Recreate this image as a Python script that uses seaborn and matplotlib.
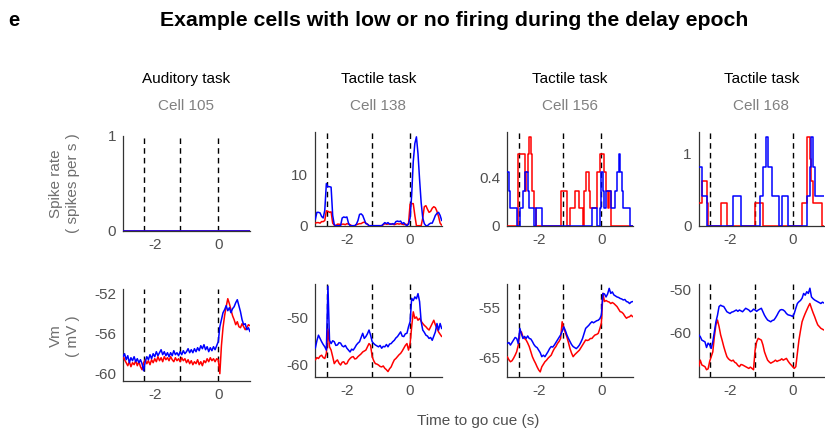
import numpy as np
import pandas as pd
import matplotlib
matplotlib.use("Agg")
import matplotlib.pyplot as plt
import seaborn as sns

sns.set_theme(style="white")
plt.rcParams["font.family"] = ["Liberation Sans", "DejaVu Sans"]

# ---------------- data ----------------
task_names = ["Auditory task", "Tactile task", "Tactile task", "Tactile task"]
cell_names = ["Cell 105", "Cell 138", "Cell 156", "Cell 168"]

# trial epoch markers (s, relative to go cue)
epoch_marks = [[-2.35, -1.2, 0.0], [-2.62, -1.21, 0.0], [-2.62, -1.21, 0.0], [-2.63, -1.21, 0.0]]

# spike rate, cell 105: silent in both trial types (80 bins of 50 ms)
rate105_red = [0.0] * 80
rate105_blue = [0.0] * 80

# spike rate, cell 138: smoothed rate sampled every 50 ms (81 samples)
rate138_blue = [1.2, 2.6, 2.6, 2.5, 1.8, 1.5, 3.0, 8.2, 7.6, 7.6,
                7.5, 2.0, 0.2, 0.0, 0.0, 0.0, 0.0, 1.5, 1.7, 1.6,
                1.7, 0.5, 0.0, 0.0, 0.0, 0.0, 0.3, 1.0, 2.2, 2.3,
                2.0, 1.2, 0.4, 0.3, 0.0, 0.0, 0.0, 0.0, 0.0, 0.0,
                0.0, 0.0, 0.0, 0.3, 0.6, 0.4, 0.6, 0.3, 0.3, 0.4,
                0.3, 0.8, 0.9, 0.8, 0.9, 0.4, 0.6, 0.2, 0.0, 0.3,
                1.5, 6.0, 12.5, 16.0, 17.3, 14.0, 9.0, 4.5, 1.5, 0.4,
                0.0, 0.0, 0.3, 0.5, 0.5, 1.2, 2.0, 2.4, 2.6, 2.0,
                1.0]
rate138_red = [0.5, 0.6, 0.6, 0.5, 0.8, 0.8, 1.0, 2.9, 2.8, 2.6,
               2.7, 0.5, 0.1, 0.0, 0.3, 0.3, 0.2, 0.3, 0.3, 0.2,
               0.4, 0.3, 0.2, 0.0, 0.0, 0.0, 0.2, 0.3, 0.4, 0.4,
               0.6, 0.7, 0.5, 0.3, 0.0, 0.0, 0.0, 0.0, 0.0, 0.0,
               0.0, 0.0, 0.0, 0.2, 0.4, 0.3, 0.3, 0.4, 0.3, 0.3,
               0.2, 0.3, 0.4, 0.3, 0.4, 0.3, 0.2, 0.3, 0.2, 0.4,
               4.2, 4.3, 4.3, 2.0, 0.0, 0.0, 0.0, 0.0, 1.5, 3.7,
               3.9, 3.2, 2.6, 2.8, 3.4, 3.7, 3.5, 2.8, 1.8, 0.5,
               0.1]

# spike rate, cell 156 (80 bins of 50 ms from -3 s)
rate156_red = [0, 0, 0, 0, 0, 0, 0, 0.59, 0.59, 0.59,
               0.59, 0.29, 0.44, 0.59, 0.73, 0.59, 0.29, 0.15, 0, 0,
               0, 0, 0, 0, 0, 0, 0, 0, 0, 0,
               0, 0, 0, 0, 0.29, 0.29, 0.29, 0.29, 0, 0,
               0.15, 0.15, 0.15, 0.29, 0.29, 0.29, 0.15, 0.15, 0, 0.29,
               0.44, 0.44, 0.29, 0.15, 0.15, 0.15, 0.15, 0.44, 0.44, 0.59,
               0.59, 0.59, 0.44, 0.29, 0.15, 0.29, 0, 0, 0, 0,
               0, 0, 0, 0, 0, 0, 0, 0, 0, 0]
rate156_blue = [0.44, 0.29, 0.15, 0.15, 0.15, 0.15, 0, 0, 0.15, 0.15,
                0.29, 0.44, 0.44, 0.29, 0.15, 0.15, 0.15, 0, 0.15, 0.15,
                0.15, 0.15, 0, 0, 0, 0, 0, 0, 0, 0,
                0, 0, 0, 0, 0, 0, 0, 0, 0, 0,
                0, 0, 0, 0, 0, 0, 0, 0, 0, 0,
                0, 0, 0, 0, 0.15, 0.15, 0.15, 0, 0, 0.15,
                0.44, 0.29, 0.15, 0.29, 0.29, 0.29, 0.15, 0.15, 0.15, 0.29,
                0.44, 0.59, 0.44, 0.29, 0.15, 0.15, 0.15, 0.15, 0, 0]

# spike rate, cell 168 (80 bins of 50 ms from -3 s)
rate168_red = [0.31, 0.31, 0.62, 0.62, 0.62, 0.31, 0, 0, 0, 0,
               0, 0, 0, 0, 0.31, 0.31, 0.31, 0.31, 0, 0,
               0, 0, 0, 0, 0, 0, 0, 0, 0, 0,
               0, 0, 0, 0, 0, 0, 0.31, 0.31, 0.31, 0.31,
               0.31, 0, 0, 0, 0, 0, 0, 0, 0, 0,
               0, 0, 0, 0, 0, 0, 0, 0, 0, 0,
               0, 0, 0, 0, 0, 0, 0.31, 0.31, 0.31, 1.23,
               1.23, 0.93, 0.62, 0.31, 0.31, 0.31, 0.31, 0.31, 0.31, 0]
rate168_blue = [0.82, 0.82, 0.41, 0.41, 0.41, 0, 0, 0, 0, 0,
                0, 0, 0, 0, 0, 0, 0, 0, 0, 0,
                0, 0, 0.41, 0.41, 0.41, 0.41, 0.41, 0, 0, 0,
                0, 0, 0, 0, 0, 0, 0, 0, 0, 0.41,
                0.41, 0.82, 0.82, 1.23, 0.82, 0.82, 0.82, 0.41, 0.41, 0.41,
                0.41, 0, 0, 0.41, 0.41, 0.41, 0.41, 0, 0, 0,
                0, 0, 0, 0, 0, 0, 0, 0, 0, 0.41,
                0.41, 0.82, 1.23, 0.82, 0.41, 0.41, 0.41, 0.41, 0.41, 0.41]

# membrane potential (mV), sampled every 50 ms from -3 s to 1 s (81 samples)
vm105_blue = [-58.3, -58.0, -58.6, -58.2, -58.9, -58.4, -58.7, -58.3, -58.8, -58.5,
              -58.9, -58.6, -59.0, -59.7, -58.8, -58.3, -58.6, -58.1, -58.5, -58.0,
              -58.3, -57.8, -58.2, -57.9, -57.6, -58.1, -57.8, -58.2, -57.9, -58.3,
              -57.9, -58.2, -57.7, -58.1, -57.9, -58.2, -57.8, -58.1, -57.7, -58.0,
              -57.8, -57.5, -57.9, -57.6, -57.9, -57.5, -57.8, -57.4, -57.7, -57.2,
              -57.5, -57.1, -57.6, -57.3, -57.8, -57.4, -57.7, -57.3, -57.6, -57.2,
              -56.8, -55.3, -54.6, -53.9, -53.6, -53.2, -53.7, -53.4, -53.9, -53.5,
              -53.3, -52.9, -52.6, -53.2, -53.8, -54.6, -55.1, -55.0, -55.6, -55.4,
              -55.8]
vm105_red = [-58.2, -58.6, -58.9, -59.2, -58.8, -59.3, -58.9, -59.1, -58.7, -59.2,
             -58.8, -59.3, -59.6, -58.9, -58.6, -59.0, -58.7, -59.1, -58.6, -58.9,
             -58.5, -58.8, -58.3, -58.7, -58.4, -58.8, -58.3, -58.6, -58.4, -58.7,
             -58.3, -58.6, -58.8, -58.4, -58.7, -58.5, -58.8, -58.4, -58.7, -58.5,
             -58.9, -58.6, -59.0, -58.7, -59.1, -58.8, -59.0, -58.6, -59.1, -58.8,
             -59.2, -58.7, -58.9, -58.5, -58.8, -58.4, -58.7, -58.5, -58.8, -58.5,
             -58.6, -60.0, -57.2, -55.4, -54.2, -53.3, -52.5, -53.0, -53.6, -54.2,
             -54.6, -55.1, -54.8, -55.3, -55.4, -55.0, -55.3, -55.6, -55.4, -55.1,
             -55.2]
vm138_blue = [-56.6, -55.0, -53.8, -54.5, -55.2, -55.8, -56.3, -57.0, -43.3, -54.9,
              -55.6, -55.0, -55.2, -56.0, -55.9, -55.4, -55.5, -56.1, -56.3, -56.0,
              -56.6, -57.0, -57.4, -56.8, -57.0, -56.5, -55.9, -55.5, -55.2, -54.3,
              -53.4, -54.5, -54.1, -53.5, -52.7, -53.8, -55.2, -55.6, -55.9, -56.1,
              -56.3, -56.0, -56.6, -56.2, -56.3, -55.8, -56.3, -55.7, -55.6, -55.2,
              -54.9, -54.4, -54.1, -53.6, -53.1, -54.0, -54.1, -53.5, -53.4, -52.0,
              -50.9, -45.9, -46.4, -45.6, -46.0, -44.9, -46.6, -50.9, -52.7, -53.2,
              -53.8, -54.0, -54.5, -54.3, -54.9, -54.0, -53.1, -51.3, -52.7, -51.3,
              -52.4]
vm138_red = [-59.1, -58.6, -58.8, -58.3, -58.1, -58.6, -58.8, -57.7, -52.5, -56.3,
             -57.0, -58.4, -59.9, -59.4, -59.1, -59.8, -60.2, -59.6, -59.5, -60.0,
             -59.9, -59.2, -58.8, -58.5, -58.4, -58.9, -58.8, -58.4, -58.1, -57.8,
             -57.4, -57.2, -57.0, -56.3, -55.6, -56.0, -58.4, -59.3, -59.9, -60.0,
             -60.2, -60.5, -60.6, -60.4, -60.9, -61.2, -61.6, -61.0, -60.6, -59.8,
             -59.1, -58.8, -58.4, -58.0, -57.7, -57.2, -56.6, -56.0, -55.6, -57.0,
             -55.6, -52.0, -48.8, -50.2, -49.9, -50.6, -50.2, -50.8, -51.3, -51.7,
             -52.0, -52.4, -52.7, -52.0, -51.3, -50.6, -51.6, -52.3, -53.1, -53.6,
             -54.1]
vm156_blue = [-62.2, -62.0, -62.5, -62.0, -61.5, -61.0, -61.2, -62.2, -59.2, -60.3,
              -61.2, -60.8, -61.2, -60.7, -61.2, -61.3, -61.8, -62.4, -62.8, -63.0,
              -63.5, -64.0, -64.8, -64.5, -64.8, -64.3, -63.8, -63.2, -62.8, -62.9,
              -62.5, -62.0, -61.5, -61.0, -60.5, -59.8, -58.9, -59.6, -60.5, -61.2,
              -61.8, -62.4, -62.8, -63.0, -63.2, -62.9, -62.5, -61.9, -61.2, -60.2,
              -59.2, -58.9, -58.6, -58.2, -57.9, -58.1, -57.9, -57.7, -57.6, -57.3,
              -56.6, -52.3, -52.4, -53.0, -52.4, -51.3, -52.3, -52.0, -52.6, -52.8,
              -53.0, -53.1, -53.3, -53.4, -53.6, -53.5, -53.9, -54.0, -54.3, -54.0,
              -53.9]
vm156_red = [-64.8, -65.4, -65.8, -65.6, -65.1, -64.5, -63.8, -62.5, -59.9, -59.9,
             -60.9, -61.2, -61.5, -62.1, -62.8, -63.8, -64.8, -65.5, -66.1, -66.8,
             -67.4, -67.8, -66.8, -66.3, -65.8, -65.5, -65.1, -64.8, -64.5, -63.8,
             -63.2, -62.8, -62.2, -61.8, -61.2, -57.9, -59.2, -60.0, -60.9, -62.0,
             -63.2, -64.1, -64.8, -64.4, -64.1, -63.8, -63.5, -63.0, -62.5, -62.0,
             -61.5, -61.6, -61.5, -61.2, -61.2, -60.8, -60.5, -60.4, -60.2, -59.3,
             -58.2, -52.3, -53.9, -53.7, -53.9, -54.0, -54.3, -54.1, -54.3, -54.6,
             -54.9, -55.4, -55.9, -56.0, -56.3, -56.8, -57.2, -57.0, -56.9, -56.6,
             -56.9]
vm168_blue = [-60.5, -60.9, -61.7, -61.9, -62.1, -63.4, -62.4, -62.8, -63.6, -62.1,
              -59.8, -57.5, -56.0, -54.0, -53.7, -53.9, -54.0, -54.6, -55.2, -55.4,
              -55.6, -55.3, -55.2, -55.0, -54.8, -55.1, -54.8, -55.0, -55.2, -54.8,
              -54.4, -54.6, -54.8, -55.2, -55.0, -54.6, -54.8, -55.1, -54.8, -54.6,
              -54.4, -55.2, -56.0, -56.6, -57.1, -57.3, -57.5, -57.2, -57.1, -56.6,
              -56.0, -55.3, -54.8, -54.7, -54.8, -55.1, -55.6, -55.9, -56.0, -56.1,
              -56.3, -55.6, -54.4, -53.3, -52.9, -52.6, -52.1, -51.0, -51.4, -50.6,
              -51.0, -49.8, -51.8, -52.2, -52.5, -52.7, -52.9, -53.1, -53.3, -53.0,
              -53.2]
vm168_red = [-67.8, -66.3, -67.4, -67.6, -67.8, -68.5, -68.3, -66.6, -65.5, -64.4,
             -60.9, -58.2, -57.1, -58.6, -60.5, -61.8, -63.2, -64.4, -65.5, -66.0,
             -66.3, -66.5, -66.3, -66.8, -67.0, -67.5, -67.8, -67.3, -67.4, -67.6,
             -67.8, -68.0, -68.2, -67.9, -68.2, -68.5, -64.0, -62.1, -61.3, -61.5,
             -61.7, -62.8, -64.4, -65.4, -66.3, -66.7, -67.0, -66.8, -66.6, -66.3,
             -66.6, -66.4, -66.3, -66.0, -66.3, -66.1, -65.9, -66.5, -67.0, -67.4,
             -67.8, -68.2, -67.8, -64.7, -61.7, -59.5, -57.5, -56.5, -55.6, -54.8,
             -54.0, -53.3, -54.4, -55.4, -56.3, -57.3, -58.2, -58.6, -59.0, -59.2,
             -59.4]

# axis scaling and ticks per panel
rate_ylims = [(0, 1.0), (0, 18.3), (0, 0.777), (0, 1.31)]
rate_yticks = [[0, 0.5, 1], [0, 5, 10, 15], [0, 0.2, 0.4, 0.6], [0, 0.5, 1]]
rate_yticklabels = [["0", "", "1"], ["0", "", "10", ""], ["0", "", "0.4", ""], ["0", "", "1"]]
vm_ylims = [(-60.7, -51.5), (-62.7, -42.9), (-68.75, -50.5), (-70.1, -48.9)]
vm_yticks = [[-60, -58, -56, -54, -52], [-60, -55, -50, -45], [-65, -60, -55], [-65, -60, -55, -50]]
vm_yticklabels = [["-60", "", "-56", "", "-52"], ["-60", "", "-50", ""], ["-65", "", "-55"], ["", "-60", "", "-50"]]
xticks = [-3, -2, -1, 0, 1]
xticklabels = ["", "-2", "", "0", ""]

rate_red = [rate105_red, rate138_red, rate156_red, rate168_red]
rate_blue = [rate105_blue, rate138_blue, rate156_blue, rate168_blue]
rate_is_hist = [True, False, True, True]
vm_red = [vm105_red, vm138_red, vm156_red, vm168_red]
vm_blue = [vm105_blue, vm138_blue, vm156_blue, vm168_blue]

RED = "#ff0000"
BLUE = "#0000ff"
TICK_COLOR = "#505050"
SPINE_COLOR = "#333333"

# ---------------- figure ----------------
W, H = 825, 429
fig = plt.figure(figsize=(W / 100, H / 100), dpi=100)

col_x = [(123, 250), (315.3, 441.7), (507.3, 632.7), (698.7, 824)]
top_rows = [(136, 231), (131.7, 225.7), (131.7, 225.7), (131.7, 225.7)]
bot_rows = [(288.7, 380.7), (284.3, 376.7), (284.3, 376.7), (284.3, 376.7)]


def make_ax(xr, yr):
    return fig.add_axes([xr[0] / W, 1 - yr[1] / H, (xr[1] - xr[0]) / W, (yr[1] - yr[0]) / H])


def style_ax(ax, ylim, yticks, yticklabels):
    ax.set_xlim(-3, 1)
    ax.set_ylim(*ylim)
    ax.set_xticks(xticks)
    ax.set_xticklabels(xticklabels)
    ax.set_yticks(yticks)
    ax.set_yticklabels(yticklabels)
    ax.set_xlabel("")
    ax.set_ylabel("")
    for s in ["top", "right"]:
        ax.spines[s].set_visible(False)
    for s in ["left", "bottom"]:
        ax.spines[s].set_color(SPINE_COLOR)
        ax.spines[s].set_linewidth(0.9)
    ax.tick_params(axis="both", direction="out", length=3, width=0.9,
                   color=SPINE_COLOR, labelcolor=TICK_COLOR, labelsize=11, pad=2)
    ax.patch.set_alpha(0)


def draw_marks(ax, marks):
    for m in marks:
        ax.axvline(m, color="black", lw=1.0, ls=(0, (4, 3)), zorder=1)


for i in range(4):
    # ---- spike rate row ----
    ax = make_ax(col_x[i], top_rows[i])
    draw_marks(ax, epoch_marks[i])
    for vals, col in [(rate_red[i], RED), (rate_blue[i], BLUE)]:
        v = np.asarray(vals, dtype=float)
        if rate_is_hist[i]:
            edges = np.linspace(-3, 1, len(v) + 1)
            df = pd.DataFrame({"t": edges, "r": np.append(v, v[-1])})
            sns.lineplot(data=df, x="t", y="r", ax=ax, color=col, lw=1.1,
                         estimator=None, sort=False, drawstyle="steps-post", zorder=3)
        else:
            df = pd.DataFrame({"t": np.linspace(-3, 1, len(v)), "r": v})
            sns.lineplot(data=df, x="t", y="r", ax=ax, color=col, lw=1.1,
                         estimator=None, sort=False, zorder=3)
    style_ax(ax, rate_ylims[i], rate_yticks[i], rate_yticklabels[i])

    # ---- membrane potential row ----
    ax2 = make_ax(col_x[i], bot_rows[i])
    draw_marks(ax2, epoch_marks[i])
    for vals, col in [(vm_red[i], RED), (vm_blue[i], BLUE)]:
        v = np.asarray(vals, dtype=float)
        df = pd.DataFrame({"t": np.linspace(-3, 1, len(v)), "vm": v})
        sns.lineplot(data=df, x="t", y="vm", ax=ax2, color=col, lw=1.1,
                     estimator=None, sort=False, zorder=3)
    style_ax(ax2, vm_ylims[i], vm_yticks[i], vm_yticklabels[i])

    # column headings
    cx = (col_x[i][0] + col_x[i][1]) / 2 / W
    fig.text(cx, 1 - 79 / H, task_names[i], ha="center", va="center", fontsize=11, color="black")
    fig.text(cx, 1 - 105.5 / H, cell_names[i], ha="center", va="center", fontsize=11, color="#808080")

# figure-level labels
fig.text(8 / W, 1 - 20 / H, "e", ha="left", va="center", fontsize=14.5, weight="bold", color="black")
fig.text(454 / W, 1 - 20 / H, "Example cells with low or no firing during the delay epoch",
         ha="center", va="center", fontsize=15.3, weight="bold", color="black")
fig.text(64.5 / W, 1 - 183.5 / H, "Spike rate\n( spikes per s )", rotation=90, ha="center",
         va="center", fontsize=11, color="#6e6e6e", linespacing=1.3)
fig.text(64.5 / W, 1 - 336 / H, "Vm\n( mV )", rotation=90, ha="center",
         va="center", fontsize=11, color="#6e6e6e", linespacing=1.3)
fig.text(478 / W, 1 - 421 / H, "Time to go cue (s)", ha="center", va="center",
         fontsize=11, color="#505050")

fig.savefig("out.png", dpi=100, facecolor="white")
